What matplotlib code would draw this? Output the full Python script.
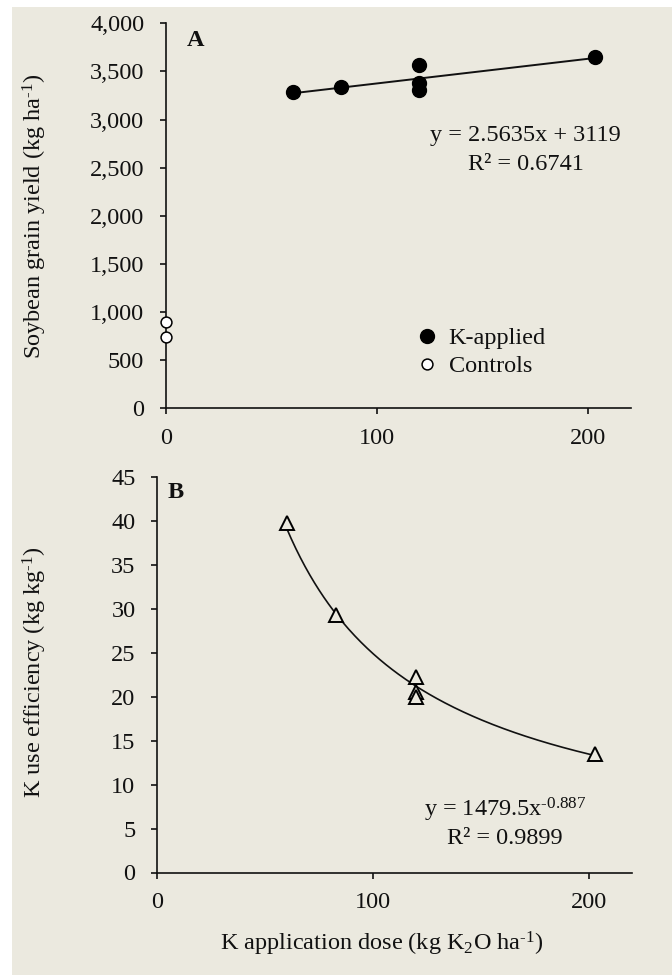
import matplotlib
matplotlib.use("Agg")
import matplotlib.pyplot as plt
import numpy as np
from matplotlib.patches import Rectangle

# ---------------- data ----------------
dose_applied = [60, 83, 120, 120, 120, 203]
yield_applied = [3289, 3341, 3567, 3383, 3307, 3653]
dose_control = [0, 0]
yield_control = [895, 745]

kue_dose = [60, 83, 120, 120, 120, 203]
kue_values = [39.7, 29.3, 22.2, 20.5, 19.9, 13.5]

lin_slope, lin_intercept = 2.5635, 3119
pow_coef, pow_exp = 1479.5, -0.887

HY = "\u2010"
eq_a = ["y = 2.5635x + 3119", "R² = 0.6741"]
eq_b = ["y = 1479.5x$^{\\mathrm{" + HY + "0.887}}$", "R² = 0.9899"]

yticks_a = [0, 500, 1000, 1500, 2000, 2500, 3000, 3500, 4000]
ytick_labels_a = ["0", "500", "1,000", "1,500", "2,000", "2,500", "3,000", "3,500", "4,000"]
yticks_b = [0, 5, 10, 15, 20, 25, 30, 35, 40, 45]
xticks = [0, 100, 200]
legend_labels = ["K-applied", "Controls"]

# ---------------- style ----------------
plt.rcParams["font.family"] = ["Liberation Serif", "DejaVu Serif"]
plt.rcParams["mathtext.fontset"] = "custom"
plt.rcParams["mathtext.rm"] = "Liberation Serif"
plt.rcParams["mathtext.it"] = "Liberation Serif:italic"
plt.rcParams["mathtext.bf"] = "Liberation Serif:bold"
FS = 17.5
BG = "#EBE9DF"
INK = "#111111"

W, H = 672, 975
fig = plt.figure(figsize=(W / 100, H / 100), dpi=100)
fig.patch.set_facecolor("white")
fig.patches.append(Rectangle((12 / W, 0), (W - 12) / W, (H - 7) / H,
                             transform=fig.transFigure, facecolor=BG,
                             edgecolor="none", zorder=-10))


def px_axes(l, r, top, bot):
    return fig.add_axes([l / W, 1 - bot / H, (r - l) / W, (bot - top) / H])


def style(ax):
    ax.set_facecolor("none")
    for s in ("top", "right"):
        ax.spines[s].set_visible(False)
    for s in ("left", "bottom"):
        ax.spines[s].set_linewidth(1.2)
        ax.spines[s].set_color(INK)
    ax.tick_params(axis="both", direction="out", length=4.5, width=1.2,
                   color=INK, labelsize=FS, labelcolor=INK)
    ax.tick_params(axis="y", pad=11)
    ax.tick_params(axis="x", pad=9.5)


def ftext(x, y, s, **kw):
    fig.text(x / W, 1 - y / H, s, fontsize=FS, color=INK, **kw)


# ---------------- panel A ----------------
axA = px_axes(165.7, 630.7, 23.3, 408.3)
style(axA)
xs = np.array([min(dose_applied), max(dose_applied)])
axA.plot(xs, lin_slope * xs + lin_intercept, color=INK, lw=1.4, zorder=2)
axA.plot(dose_applied, yield_applied, ls="none", marker="o", ms=10,
         mfc="black", mec="black", label=legend_labels[0], zorder=3, clip_on=False)
axA.plot(dose_control, yield_control, ls="none", marker="o", ms=7.8,
         mfc="white", mec="black", mew=1.1, label=legend_labels[1], zorder=3, clip_on=False)
axA.set_xlim(0, 220)
axA.set_ylim(0, 4000)
axA.set_xticks(xticks)
axA.set_yticks(yticks_a)
axA.set_yticklabels(ytick_labels_a)

leg = axA.legend(loc="center left", bbox_to_anchor=(415 / W, 1 - 352.3 / H),
                 bbox_transform=fig.transFigure, frameon=False, fontsize=FS,
                 numpoints=1, handlelength=1.0, handletextpad=0.38,
                 borderpad=0, borderaxespad=0, labelspacing=0.26)
for t in leg.get_texts():
    t.set_color(INK)

ftext(195.5, 46.3, "A", ha="center", va="baseline", fontweight="bold")
ftext(525.5, 141, eq_a[0], ha="center", va="baseline")
ftext(525.5, 169.7, eq_a[1], ha="center", va="baseline")
ftext(42, 216, "Soybean grain yield (kg ha$^{\\mathrm{" + HY + "1}}$)", ha="center",
      va="baseline", rotation=90, rotation_mode="anchor")

# ---------------- panel B ----------------
axB = px_axes(157, 632, 476.7, 872.5)
style(axB)
xc = np.linspace(min(kue_dose), max(kue_dose), 200)
axB.plot(xc, pow_coef * xc ** pow_exp, color=INK, lw=1.2, zorder=2)
axB.plot(kue_dose, kue_values, ls="none", marker="^", ms=10.5,
         mfc=BG, mec="black", mew=1.4, zorder=3, clip_on=False)
axB.set_xlim(0, 220)
axB.set_ylim(0, 45)
axB.set_xticks(xticks)
axB.set_yticks(yticks_b)

ftext(175.3, 498.3, "B", ha="center", va="baseline", fontweight="bold")
ftext(505, 816.5, eq_b[0], ha="center", va="baseline")
ftext(505, 844.5, eq_b[1], ha="center", va="baseline")
ftext(42, 672, "K use efficiency (kg kg$^{\\mathrm{" + HY + "1}}$)", ha="center",
      va="baseline", rotation=90, rotation_mode="anchor")
ftext(382, 950, "K application dose (kg K$_{\\mathrm{2}}$O ha$^{\\mathrm{" + HY + "1}}$)",
      ha="center", va="baseline")

fig.savefig("out.png", dpi=100, facecolor=fig.get_facecolor())
